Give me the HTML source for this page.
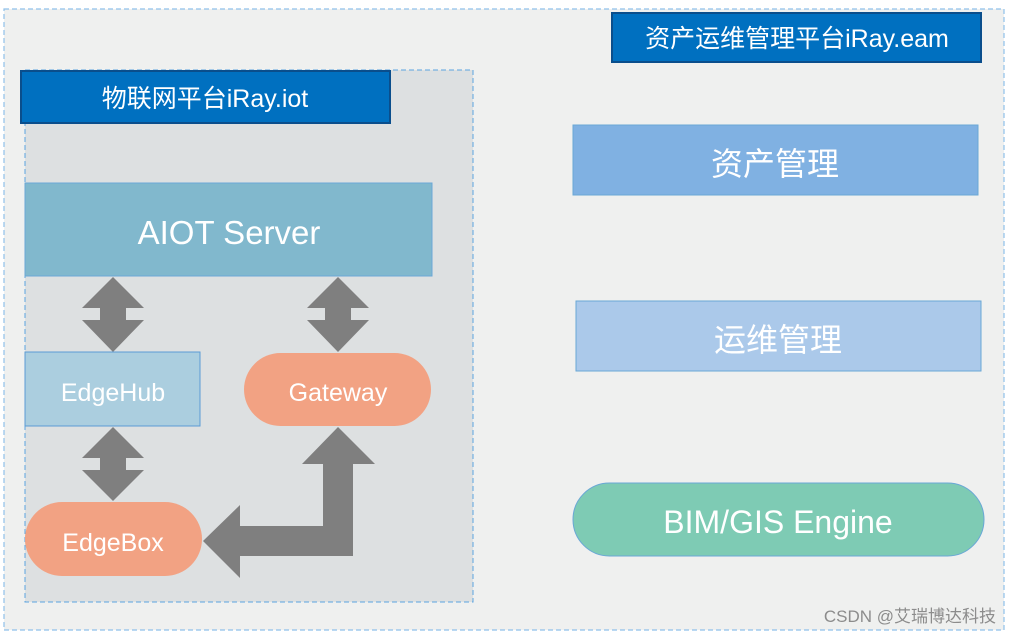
<!DOCTYPE html>
<html><head><meta charset="utf-8"><style>
html,body{margin:0;padding:0;background:#fff;}
svg text{font-family:"Liberation Sans","Noto Sans CJK SC",sans-serif;fill:#fff;}
</style></head><body>
<svg width="1012" height="636" viewBox="0 0 1012 636" xmlns="http://www.w3.org/2000/svg">
<rect x="4" y="9" width="1000" height="621" fill="#eff0ef" stroke="#8fc0ea" stroke-width="1.2" stroke-dasharray="5,3"/>
<rect x="25" y="70" width="448" height="532" fill="#dde0e1" stroke="#5ba4e0" stroke-width="1" stroke-dasharray="5,3"/>
<rect x="21" y="71" width="369" height="52" fill="#0070c0" stroke="#0a4e8c" stroke-width="2"/>
<text x="205" y="107" font-size="25" text-anchor="middle">物联网平台iRay.iot</text>
<rect x="25" y="183" width="407" height="93" fill="#81b8cd" stroke="#6aa7d6"/>
<text x="229" y="244" font-size="33" text-anchor="middle">AIOT Server</text>
<polygon points="113,277 144,308 126,308 126,320 144,320 113,352 82,320 100,320 100,308 82,308" fill="#7f7f7f"/>
<polygon points="338,277 369,308 351,308 351,320 369,320 338,352 307,320 325,320 325,308 307,308" fill="#7f7f7f"/>
<polygon points="113,427 144,458 126,458 126,470 144,470 113,501 82,470 100,470 100,458 82,458" fill="#7f7f7f"/>
<rect x="25" y="352" width="175" height="74" fill="#abcedf" stroke="#5b9bd5"/>
<text x="113" y="401" font-size="25" text-anchor="middle">EdgeHub</text>
<rect x="244" y="353" width="187" height="73" rx="36.5" fill="#f2a283"/>
<text x="338" y="401" font-size="25" text-anchor="middle">Gateway</text>
<rect x="25" y="502" width="177" height="74" rx="37" fill="#f2a283"/>
<text x="113" y="551" font-size="25" text-anchor="middle">EdgeBox</text>
<polygon points="338,427 375,464 353,464 353,556 240,556 240,578 203,541 240,505 240,526 323,526 323,464 302,464" fill="#7f7f7f"/>
<rect x="612" y="13" width="369" height="49" fill="#0070c0" stroke="#0a4e8c" stroke-width="2"/>
<text x="797" y="47" font-size="25" text-anchor="middle">资产运维管理平台iRay.eam</text>
<rect x="573" y="125" width="405" height="70" fill="#80b1e2" stroke="#6aa7d6"/>
<text x="775" y="175" font-size="32" text-anchor="middle">资产管理</text>
<rect x="576" y="301" width="405" height="70" fill="#abc9ea" stroke="#6aa7d6"/>
<text x="778" y="351" font-size="32" text-anchor="middle">运维管理</text>
<rect x="573" y="483" width="411" height="73" rx="36.5" fill="#7ecbb4" stroke="#6aa7d6"/>
<text x="778" y="533" font-size="32" text-anchor="middle">BIM/GIS Engine</text>
<text x="996" y="622" font-size="17" text-anchor="end" style="fill:#8c8c8c">CSDN @艾瑞博达科技</text>
</svg>
</body></html>
